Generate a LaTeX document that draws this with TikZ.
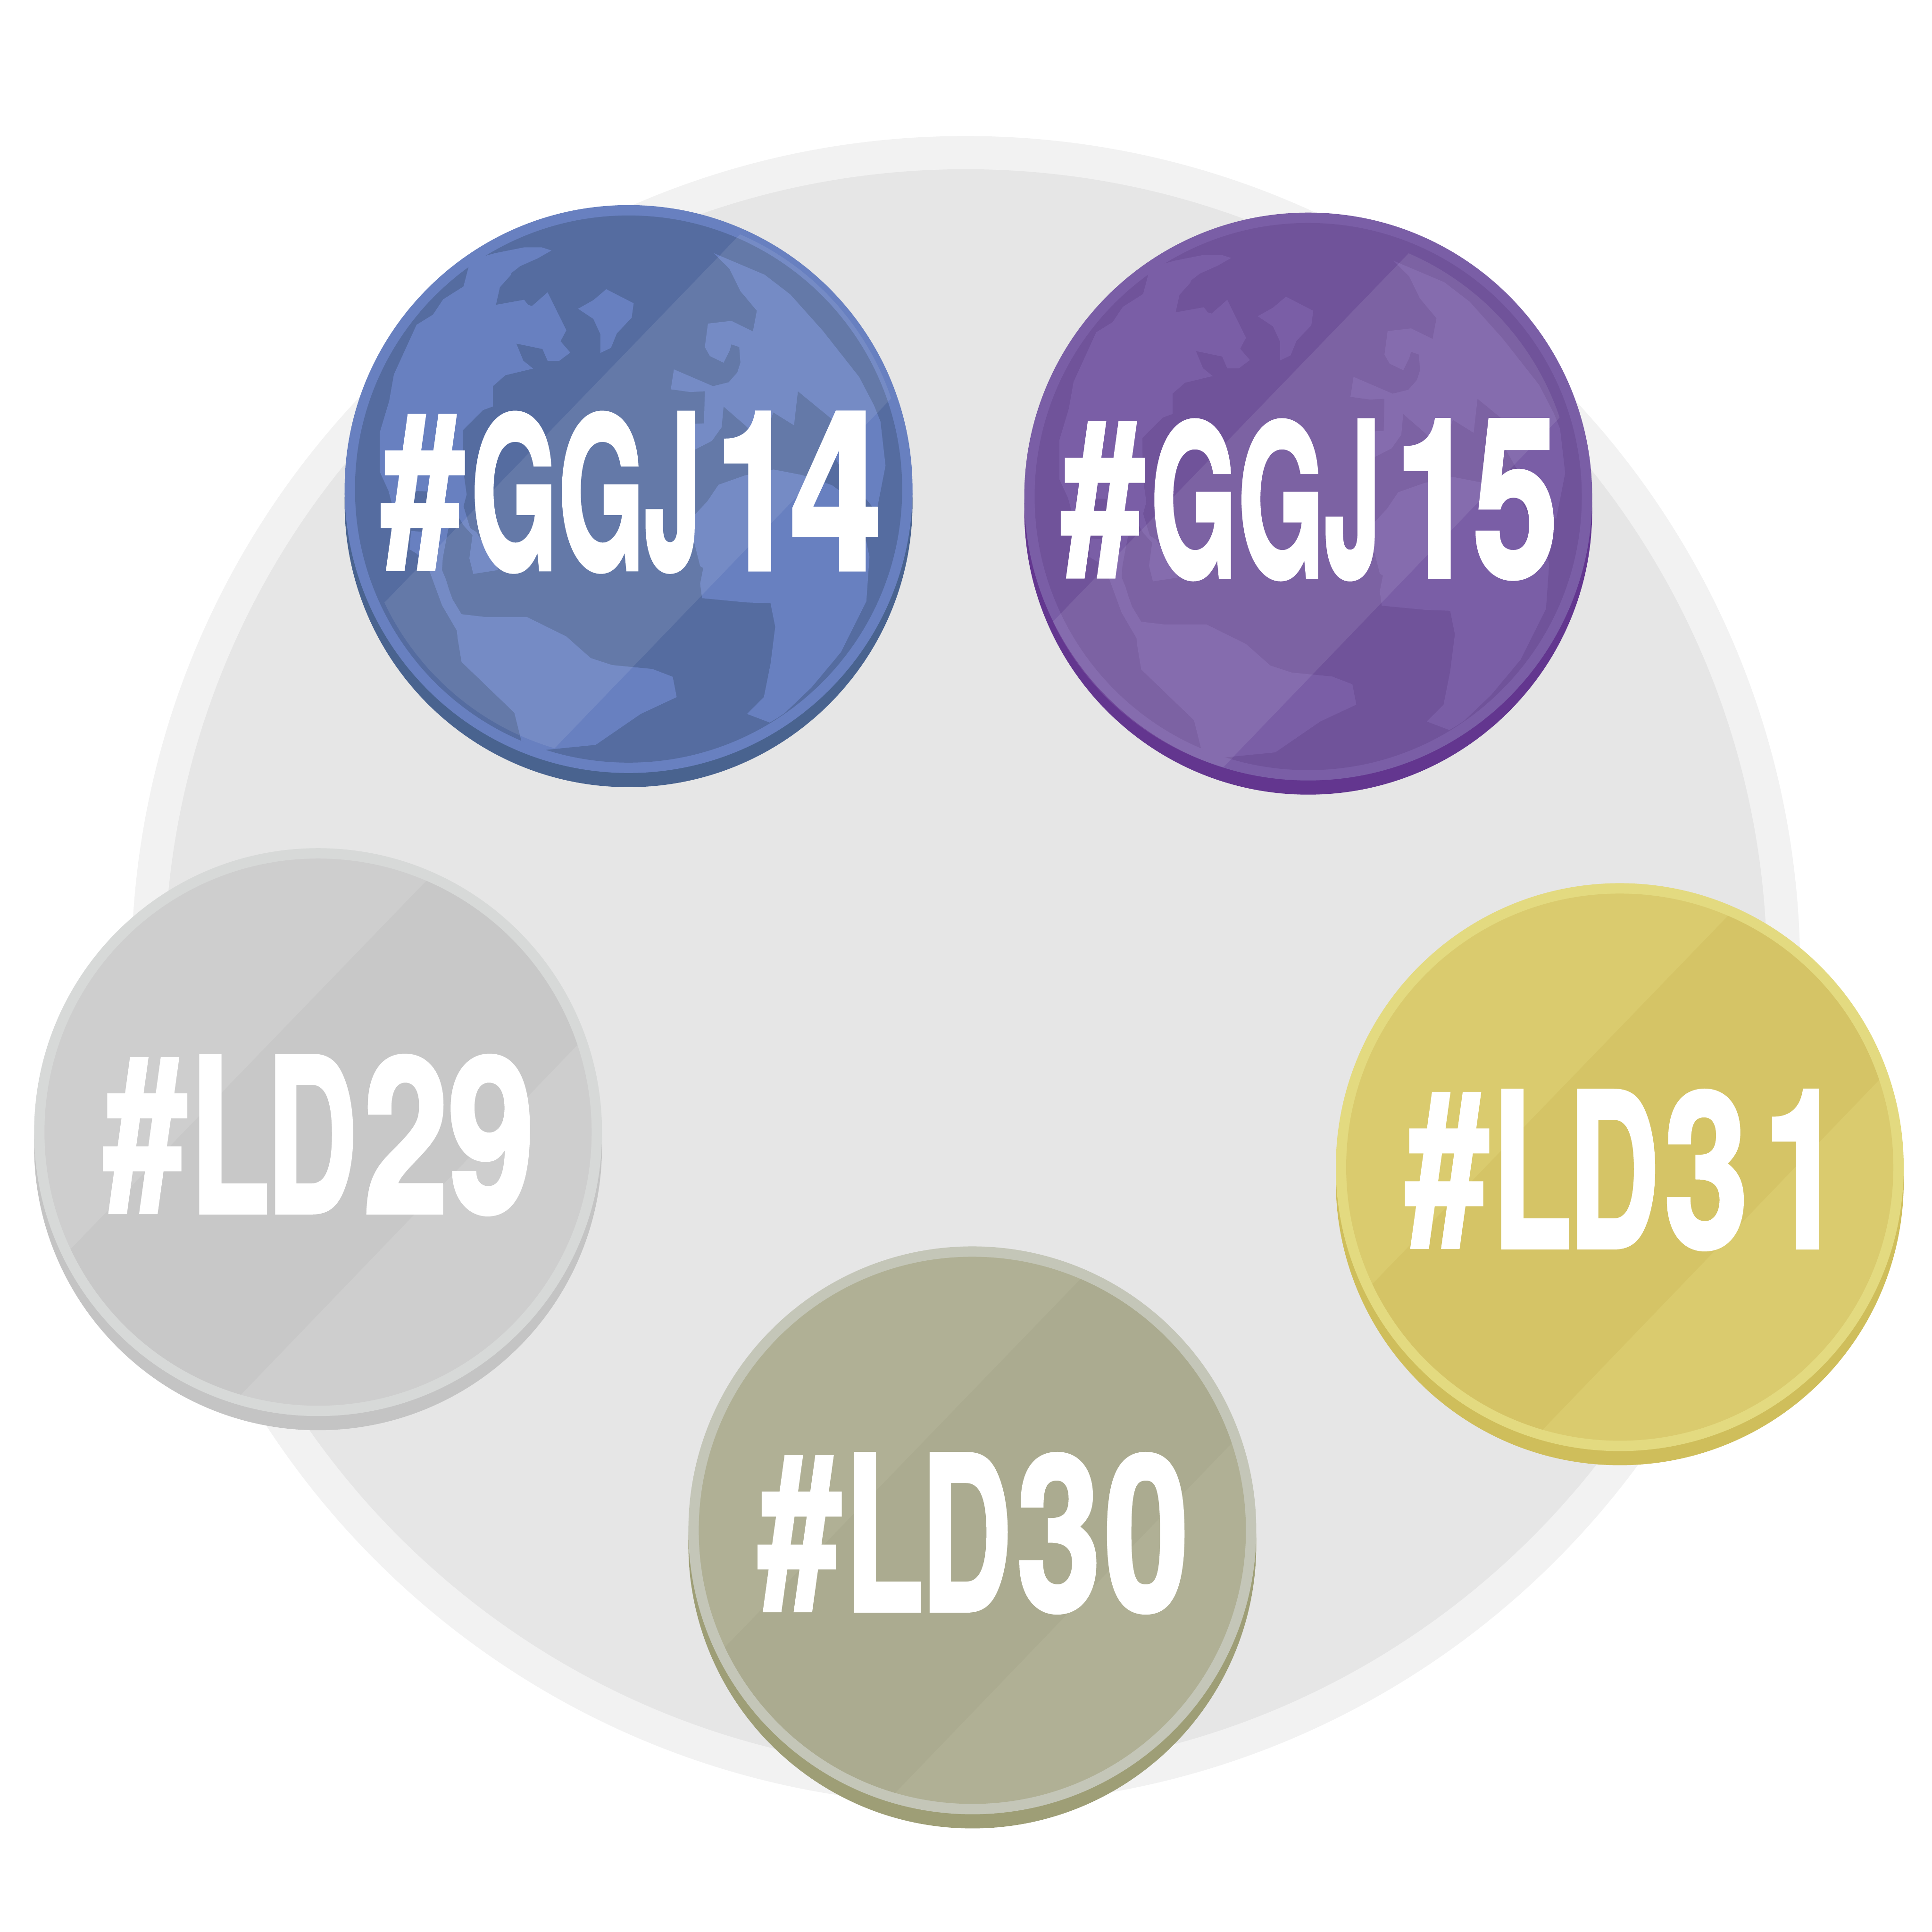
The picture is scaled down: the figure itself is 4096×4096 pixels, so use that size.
\documentclass[tikz,border=0pt]{standalone}
\usepackage{fontspec}
\usepackage{graphicx}
\usetikzlibrary{positioning}

\newfontfamily\badgefont[BoldFeatures={FakeBold=2}]{TeX Gyre Heros}

\definecolor{discouter}{HTML}{F2F2F2}
\definecolor{discinner}{HTML}{E6E6E6}
\definecolor{bluerim}{HTML}{6880C0}
\definecolor{bluebase}{HTML}{556CA0}
\definecolor{blueshade}{HTML}{49638F}
\definecolor{purplerim}{HTML}{7A5EA6}
\definecolor{purplebase}{HTML}{70539A}
\definecolor{purpleshade}{HTML}{63368F}
\definecolor{greyrim}{HTML}{D7D9D8}
\definecolor{greybase}{HTML}{CECECE}
\definecolor{greyband}{HTML}{C8C8C8}
\definecolor{greyshade}{HTML}{C4C4C4}
\definecolor{olivrim}{HTML}{C4C6B8}
\definecolor{olivbase}{HTML}{B0B095}
\definecolor{olivband}{HTML}{ABAB90}
\definecolor{olivshade}{HTML}{9E9E76}
\definecolor{goldrim}{HTML}{E3DA80}
\definecolor{goldbase}{HTML}{DACB6E}
\definecolor{goldband}{HTML}{D5C466}
\definecolor{goldshade}{HTML}{CFBE5B}

\newlength{\zu}
\setlength{\zu}{0.00829cm}

% one letter: left edge, width, character
\newcommand{\gl}[3]{\makebox[0pt][l]{\hspace*{#1\zu}\resizebox{#2\zu}{400\zu}{#3}}}
\newcommand{\glhash}{\makebox[0pt][l]{\hspace*{4\zu}\raisebox{18\zu}{\resizebox{210\zu}{374\zu}{\#}}}}
\newcommand{\badgeline}[2]{\makebox[#1\zu][l]{\badgefont\bfseries #2}}

% x, y, rim, base, shade
\newcommand{\coinbody}[5]{
\fill[#5] (#1,#2+30) circle (602);
\fill[#3] (#1,#2) circle (602);
\fill[#4] (#1,#2) circle (580);
}
% x, y, clip offset x, clip offset y, band style
\newcommand{\coinband}[5]{
\begin{scope}
\clip (#1+#3,#2+#4) circle (580);
\fill[#5] (#1+305,#2-611) -- (#1+625,#2-263) -- (#1-237,#2+633) -- (#1-598,#2+324) -- cycle;
\end{scope}
}

\newcommand{\landmass}{
\fill (420,172) -- (445,165) -- (520,150) -- (565,150) -- (590,158) -- (555,178) -- (510,198) -- (488,215) -- (485,222) -- (458,252) -- (448,297) -- (520,284) -- (530,297) -- (540,300) -- (580,265) -- (628,362) -- (613,390) -- (638,419) -- (610,440) -- (580,440) -- (567,410) -- (500,396) -- (518,440) -- (543,460) -- (472,477) -- (440,505) -- (440,557) -- (415,566) -- (363,618) -- (364,716) -- (373,782) -- (365,812) -- (382,868) -- (398,878) -- (454,975) -- (390,985) -- (380,945) -- (388,886) -- (366,862) -- (354,842) -- (326,870) -- (312,945) -- (310,975) -- (320,999) -- (328,1025) -- (337,1050) -- (360,1088) -- (420,1095) -- (527,1095) -- (628,1145) -- (690,1200) -- (745,1218) -- (848,1228) -- (900,1248) -- (910,1300) -- (818,1343) -- (703,1422) -- (573,1435) -- (543,1426) -- (513,1412) -- (495,1340) -- (360,1210) -- (350,1150) -- (348,1130) -- (310,1065) -- (277,975) -- (259,947) -- (245,933) -- (227,922) -- (231,875) -- (267,878) -- (273,774) -- (241,773) -- (205,800) -- (187,824) -- (173,772) -- (151,724) -- (151,623) -- (175,543) -- (187,475) -- (245,348) -- (287,322) -- (313,283) -- (365,250) -- (378,200) -- (398,178) -- cycle;
\fill (658,307) -- (697,285) -- (730,257) -- (800,293) -- (795,330) -- (757,370) -- (742,407) -- (715,420) -- (715,372) -- (697,333) -- cycle;
\fill (1005,165) -- (1135,220) -- (1200,270) -- (1285,365) -- (1377,482) -- (1415,555) -- (1431,595) -- (1444,708) -- (1421,826) -- (1393,792) -- (1329,713) -- (1286,637) -- (1309,591) -- (1220,518) -- (1210,605) -- (1157,572) -- (1147,600) -- (1120,640) -- (1085,605) -- (1030,557) -- (1025,610) -- (1000,645) -- (955,668) -- (940,675) -- (940,602) -- (980,600) -- (982,518) -- (945,520) -- (895,513) -- (903,462) -- (1003,505) -- (1043,495) -- (1065,470) -- (1073,445) -- (1070,405) -- (1050,398) -- (1045,415) -- (1030,445) -- (995,428) -- (982,405) -- (990,345) -- (1050,338) -- (1105,365) -- (1115,312) -- (1073,262) -- (1045,205) -- cycle;
\fill (1158,718) -- (1230,732) -- (1307,758) -- (1329,774) -- (1395,903) -- (1403,941) -- (1395,1055) -- (1330,1185) -- (1255,1275) -- (1187,1340) -- (1168,1353) -- (1148,1365) -- (1090,1343) -- (1133,1300) -- (1150,1215) -- (1162,1120) -- (1150,1060) -- (1090,1058) -- (975,1047) -- (970,1010) -- (978,970) -- (970,965) -- (955,905) -- (955,835) -- (988,800) -- (1017,757) -- (1085,733) -- cycle;
}

\tikzset{
  sheen/.style={white, opacity=0.09},
  badgelabel/.style={anchor=base west, inner sep=0pt, outer sep=0pt, text=white}
}

\begin{document}
\begin{tikzpicture}[x=0.01cm, y=-0.01cm]

\useasboundingbox (0,0) rectangle (4096,4096);
\fill[white] (0,0) rectangle (4096,4096);

% big disc behind the coins
\fill[discouter] (2047.5,2057.4) circle (1769);
\fill[discinner] (2047.5,2057.4) circle (1698.6);

% global game jam coins
\coinbody{1332.6}{1036.8}{bluerim}{bluebase}{blueshade}
\begin{scope}[shift={(680,400)}, scale=0.8292, bluerim]
\landmass
\end{scope}
\coinband{1332.6}{1036.8}{7}{-7}{sheen}

\coinbody{2773.5}{1052.7}{purplerim}{purplebase}{purpleshade}
\begin{scope}[shift={(2120.9,415.9)}, scale=0.8292, purplerim]
\landmass
\end{scope}
\coinband{2773.5}{1052.7}{-17}{17}{sheen}

% ludum dare coins
\coinbody{674.3}{2400.2}{greyrim}{greybase}{greyshade}
\coinband{674.3}{2400.2}{0}{0}{greyband}

\coinbody{2061.4}{3244.4}{olivrim}{olivbase}{olivshade}
\coinband{2061.4}{3244.4}{0}{0}{olivband}

\coinbody{3434}{2474.4}{goldrim}{goldbase}{goldshade}
\coinband{3434}{2474.4}{0}{0}{goldband}

\node[badgelabel] (ggj14) at (806,1206.8) {\badgeline{1271}{\glhash\gl{232.5}{221}{G}\gl{455.5}{221}{G}\gl{675}{145}{J}\gl{858}{203}{1}\gl{1048}{235}{4}}};

\node[badgelabel] (ggj15) at (2247.8,1222.7) {\badgeline{1257}{\glhash\gl{231.5}{221}{G}\gl{454.5}{221}{G}\gl{675}{145}{J}\gl{857}{203}{1}\gl{1055.5}{218}{5}}};

\node[badgelabel] (ld29) at (217.4,2570.2) {\badgeline{1091}{\glhash\gl{224}{204}{L}\gl{420}{231}{D}\gl{667}{217}{2}\gl{883}{222}{9}}};

\node[badgelabel] (ld30) at (1605,3414.4) {\badgeline{1092}{\glhash\gl{225}{201}{L}\gl{420}{231}{D}\gl{663.5}{216}{3}\gl{887.5}{217}{0}}};

\node[badgelabel] (ld31) at (2977.6,2644.4) {\badgeline{1056}{\glhash\gl{224}{204}{L}\gl{420}{231}{D}\gl{663.5}{216}{3}\gl{919}{201}{1}}};

\end{tikzpicture}
\end{document}
